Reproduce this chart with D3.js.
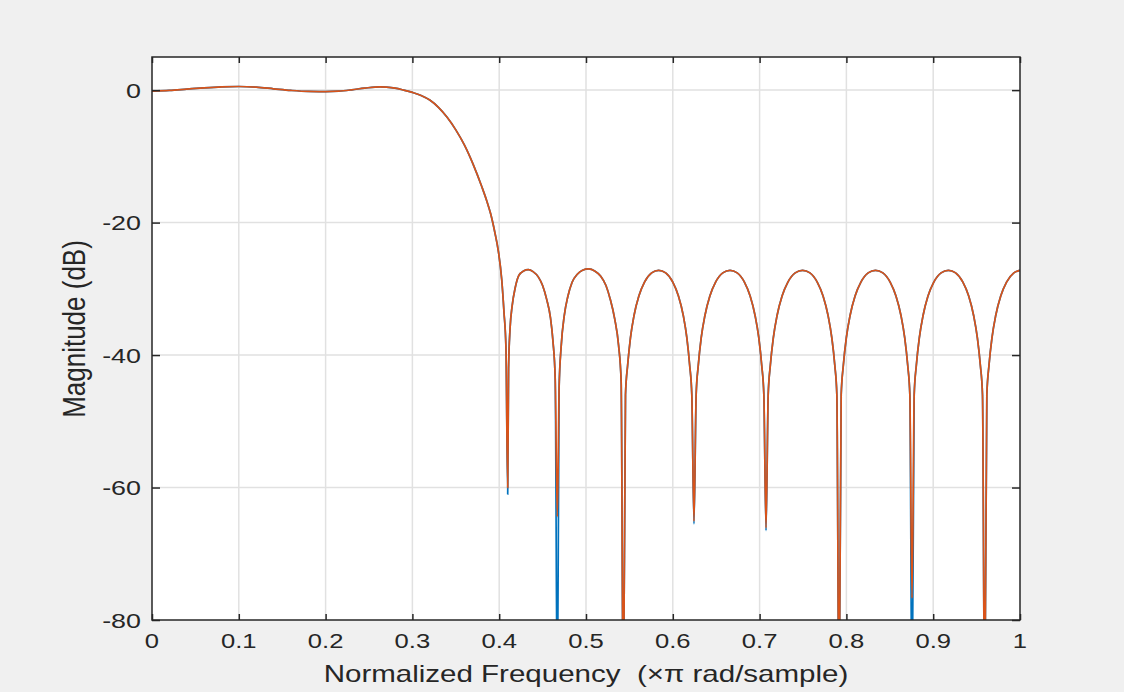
<!DOCTYPE html>
<html><head><meta charset="utf-8">
<script src="https://cdn.jsdelivr.net/npm/d3@7"></script>
<style>html,body{margin:0;padding:0;background:#fff;} svg{display:block;} text{white-space:pre;}</style>
</head><body><svg id="chart" width="1124" height="692"></svg>
<script>
// ---------- data ----------
const xTicks = [0, 0.1, 0.2, 0.3, 0.4, 0.5, 0.6, 0.7, 0.8, 0.9, 1];
const xTickLabels = ["0", "0.1", "0.2", "0.3", "0.4", "0.5", "0.6", "0.7", "0.8", "0.9", "1"];
const yTicks = [0, -20, -40, -60, -80];
const yTickLabels = ["0", "-20", "-40", "-60", "-80"];
const xLabel = "Normalized Frequency  (\u00D7\u03C0 rad/sample)";
const yLabel = "Magnitude (dB)";

// shared response (both series coincide away from the nulls)
const freq = [
  0, 0.02, 0.04, 0.06, 0.08, 0.10, 0.12, 0.14, 0.16, 0.18, 0.20, 0.215, 0.23, 0.245, 0.2627,
  0.27, 0.28, 0.29, 0.30, 0.31, 0.32, 0.33, 0.34, 0.35, 0.36, 0.37, 0.38, 0.3856, 0.39, 0.395,
  0.399, 0.4029, 0.4055, 0.4078,
  0.4108, 0.4125, 0.415, 0.4185, 0.4225, 0.428, 0.4336, 0.439, 0.445, 0.45, 0.4547, 0.459, 0.462, 0.4645,
  0.469, 0.4715, 0.475, 0.479, 0.484, 0.49, 0.496, 0.503, 0.51, 0.517, 0.523, 0.528, 0.533, 0.5375, 0.5405,
  0.5455, 0.548, 0.5512, 0.5552, 0.5609, 0.5674, 0.5756, 0.5837, 0.5918, 0.6000, 0.6065, 0.6122, 0.6162, 0.6194, 0.6219,
  0.6269, 0.6294, 0.6327, 0.6369, 0.6427, 0.6493, 0.6576, 0.6659, 0.6742, 0.6825, 0.6891, 0.6949, 0.6991, 0.7024, 0.7049,
  0.7099, 0.7124, 0.7158, 0.7200, 0.7259, 0.7326, 0.7410, 0.7495, 0.7580, 0.7664, 0.7731, 0.7790, 0.7832, 0.7866, 0.7890,
  0.7940, 0.7965, 0.7999, 0.8041, 0.8100, 0.8167, 0.8251, 0.8335, 0.8420, 0.8504, 0.8571, 0.8630, 0.8672, 0.8706, 0.8731,
  0.8781, 0.8806, 0.8840, 0.8882, 0.8940, 0.9007, 0.9091, 0.9175, 0.9258, 0.9342, 0.9409, 0.9467, 0.9509, 0.9543, 0.9568,
  0.9618, 0.9643, 0.9677, 0.9719, 0.9778, 0.9845, 0.9929, 1.0
];
const mag = [
  -0.15, -0.05, 0.15, 0.35, 0.5, 0.55, 0.45, 0.2, -0.05, -0.2, -0.22, -0.15, 0.05, 0.3, 0.5,
  0.45, 0.3, 0.0, -0.35, -0.8, -1.5, -2.6, -4.1, -6.0, -8.3, -11.2, -14.6, -16.7, -18.6, -21.5,
  -24.3, -28.6, -33.5, -39,
  -42, -36, -32.5, -29.8, -28.0, -27.3, -27.1, -27.4, -28.2, -29.5, -31.6, -34.3, -38.0, -43.5,
  -45, -38.5, -34.0, -31.2, -29.0, -27.8, -27.2, -27.0, -27.3, -28.1, -29.5, -31.6, -34.5, -38.5, -44,
  -46, -41.5, -37.4, -34.1, -31.1, -29.0, -27.6, -27.2, -27.6, -29.0, -31.1, -34.1, -37.4, -41.5, -46,
  -46, -41.5, -37.4, -34.1, -31.1, -29.0, -27.6, -27.2, -27.6, -29.0, -31.1, -34.1, -37.4, -41.5, -46,
  -46, -41.5, -37.4, -34.1, -31.1, -29.0, -27.6, -27.2, -27.6, -29.0, -31.1, -34.1, -37.4, -41.5, -46,
  -46, -41.5, -37.4, -34.1, -31.1, -29.0, -27.6, -27.2, -27.6, -29.0, -31.1, -34.1, -37.4, -41.5, -46,
  -46, -41.5, -37.4, -34.1, -31.1, -29.0, -27.6, -27.2, -27.6, -29.0, -31.1, -34.1, -37.4, -41.5, -46,
  -46, -41.5, -37.4, -34.1, -31.1, -29.0, -27.6, -27.2
];
// stopband nulls: depth of each series there (values below -80 are clipped by the axes)
const nullFreq   = [0.4098, 0.467, 0.543, 0.6244, 0.7074, 0.7915, 0.8756, 0.9593];
const nullBlue   = [-61.0, -95, -95, -65.5, -66.5, -95, -95, -95];
const nullOrange = [-60.0, -64.4, -95, -65.1, -66.1, -95, -76.7, -95];

// ---------- layout ----------
const W = 1124, H = 692;
const plot = {left: 152, top: 57, right: 1020, bottom: 620};
const axisColor = "#262626";
const gridColor = "#e1e1e1";
const blue = "#0072BD", orange = "#D95319";

const svg = d3.select("#chart");
svg.append("rect").attr("width", W).attr("height", H).attr("fill", "#f0f0f0");
svg.append("rect").attr("x", plot.left).attr("y", plot.top)
  .attr("width", plot.right - plot.left).attr("height", plot.bottom - plot.top).attr("fill", "#fff");

const x = d3.scaleLinear().domain([0, 1]).range([plot.left, plot.right]);
const y = d3.scaleLinear().domain([-80, 5]).range([plot.bottom, plot.top]);

// grid
const grid = svg.append("g");
grid.selectAll(".gx").data(xTicks.slice(1, -1)).join("line")
  .attr("x1", d => x(d)).attr("x2", d => x(d)).attr("y1", plot.top).attr("y2", plot.bottom)
  .attr("stroke", gridColor).attr("stroke-width", 1.5);
grid.selectAll(".gy").data(yTicks.slice(0, -1)).join("line")
  .attr("y1", d => y(d)).attr("y2", d => y(d)).attr("x1", plot.left).attr("x2", plot.right)
  .attr("stroke", gridColor).attr("stroke-width", 1.5);

// series
function buildSeries(nullDepth) {
  const pts = freq.map((f, i) => [f, mag[i]]);
  nullFreq.forEach((f, i) => pts.push([f, nullDepth[i]]));
  pts.sort((a, b) => a[0] - b[0]);
  return pts;
}
svg.append("clipPath").attr("id", "clip").append("rect")
  .attr("x", plot.left).attr("y", plot.top)
  .attr("width", plot.right - plot.left).attr("height", plot.bottom - plot.top);
const line = d3.line().x(d => x(d[0])).y(d => y(d[1])).curve(d3.curveMonotoneX);
const lines = svg.append("g").attr("clip-path", "url(#clip)");
lines.append("path").datum(buildSeries(nullBlue)).attr("d", line)
  .attr("fill", "none").attr("stroke", blue).attr("stroke-width", 1.7).attr("stroke-linejoin", "round");
lines.append("path").datum(buildSeries(nullOrange)).attr("d", line)
  .attr("fill", "none").attr("stroke", orange).attr("stroke-width", 1.7).attr("stroke-linejoin", "round");

// axes (box with inward ticks on all sides)
const tickLenX = 6, tickLenY = 8;
const axG = svg.append("g").attr("font-family", "'Liberation Sans', Arial, sans-serif").attr("fill", axisColor);
const bottomAxis = d3.axisBottom(x).tickValues(xTicks).tickSize(-tickLenX).tickFormat("");
const topAxis = d3.axisTop(x).tickValues(xTicks).tickSize(-tickLenX).tickFormat("");
const leftAxis = d3.axisLeft(y).tickValues(yTicks).tickSize(-tickLenY).tickFormat("");
const rightAxis = d3.axisRight(y).tickValues(yTicks).tickSize(-tickLenY).tickFormat("");
[[bottomAxis, `translate(0,${plot.bottom})`], [topAxis, `translate(0,${plot.top})`],
 [leftAxis, `translate(${plot.left},0)`], [rightAxis, `translate(${plot.right},0)`]].forEach(([ax, tr]) => {
  const g = axG.append("g").attr("transform", tr).call(ax);
  g.select(".domain").remove();
  g.selectAll(".tick line").attr("stroke", axisColor).attr("stroke-width", 1.5);
});
axG.append("rect").attr("x", plot.left).attr("y", plot.top)
  .attr("width", plot.right - plot.left).attr("height", plot.bottom - plot.top)
  .attr("fill", "none").attr("stroke", axisColor).attr("stroke-width", 1.5);

// tick labels
axG.selectAll(".xl").data(xTicks).join("text")
  .attr("transform", d => `translate(${x(d)},648) scale(1.22,1)`)
  .attr("text-anchor", "middle").attr("font-size", 21)
  .text((d, i) => xTickLabels[i]);
axG.selectAll(".yl").data(yTicks).join("text")
  .attr("transform", d => `translate(141,${y(d) + 7.5}) scale(1.28,1)`)
  .attr("text-anchor", "end").attr("font-size", 21)
  .text((d, i) => yTickLabels[i]);

// axis titles
axG.append("text").attr("transform", `translate(586,682) scale(1.23,1)`)
  .attr("xml:space", "preserve")
  .attr("text-anchor", "middle").attr("font-size", 24).text(xLabel);
axG.append("text").attr("transform", `translate(85,329) scale(1.2,1) rotate(-90)`)
  .attr("text-anchor", "middle").attr("font-size", 26).text(yLabel);
</script></body></html>
